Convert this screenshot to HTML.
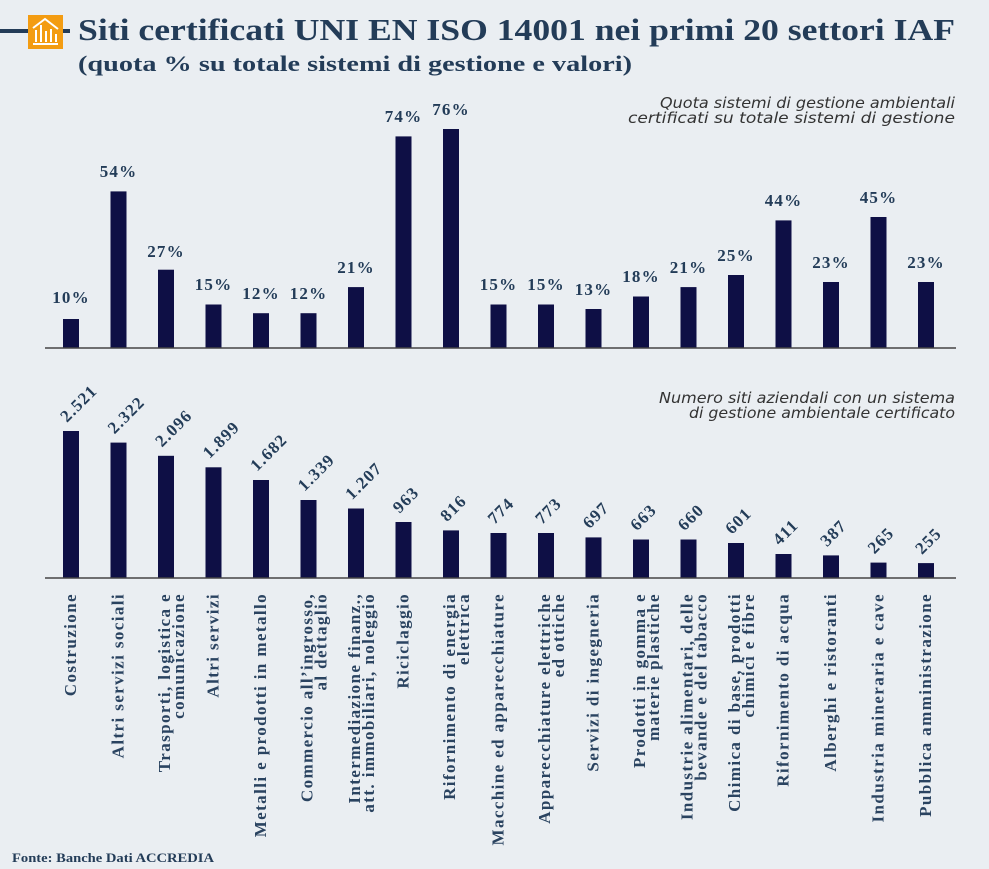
<!DOCTYPE html>
<html><head><meta charset="utf-8"><style>
html,body{margin:0;padding:0;background:#eaeef2;}
svg{display:block;}
.t{font-family:"Liberation Serif",serif;font-weight:bold;fill:#233c58;}
.v{font-family:"Liberation Serif",serif;font-weight:bold;fill:#233c58;font-size:17px;letter-spacing:1.2px;}
.c{font-family:"Liberation Serif",serif;font-weight:bold;fill:#2a4360;font-size:17px;letter-spacing:1.4px;}
.l{font-family:"DejaVu Sans","Liberation Sans",sans-serif;font-style:italic;fill:#333;font-size:15.5px;}
</style></head><body>
<svg width="989" height="869" viewBox="0 0 989 869" xmlns="http://www.w3.org/2000/svg">
<rect width="989" height="869" fill="#eaeef2"/>
<line x1="0" y1="31" x2="70" y2="31" stroke="#243c58" stroke-width="4"/>
<rect x="28" y="15" width="35" height="34" fill="#f39c12"/>
<g stroke="#fff" stroke-width="2" fill="none">
<line x1="33" y1="44" x2="58" y2="44"/>
<line x1="36" y1="42" x2="36" y2="30"/><line x1="41" y1="42" x2="41" y2="25"/><line x1="46" y1="42" x2="46" y2="31"/><line x1="51" y1="42" x2="51" y2="29"/><line x1="56" y1="42" x2="56" y2="34"/>
<polyline points="33,28 45,19 58,29"/>
</g>
<text class="t" x="78" y="40" font-size="31" textLength="877" lengthAdjust="spacingAndGlyphs">Siti certificati UNI EN ISO 14001 nei primi 20 settori IAF</text>
<text class="t" x="78" y="71" font-size="22" textLength="554" lengthAdjust="spacingAndGlyphs">(quota % su totale sistemi di gestione e valori)</text>
<text class="l" x="955" y="108" text-anchor="end" textLength="295" lengthAdjust="spacingAndGlyphs">Quota sistemi di gestione ambientali</text>
<text class="l" x="955" y="123" text-anchor="end" textLength="327" lengthAdjust="spacingAndGlyphs">certificati su totale sistemi di gestione</text>
<text class="l" x="955" y="403" text-anchor="end" textLength="296" lengthAdjust="spacingAndGlyphs">Numero siti aziendali con un sistema</text>
<text class="l" x="955" y="418" text-anchor="end" textLength="266" lengthAdjust="spacingAndGlyphs">di gestione ambientale certificato</text>
<g fill="#0e0f45">
<rect x="63" y="319" width="16" height="29"/>
<rect x="110.5" y="191.4" width="16" height="156.6"/>
<rect x="158" y="269.7" width="16" height="78.3"/>
<rect x="205.5" y="304.5" width="16" height="43.5"/>
<rect x="253" y="313.2" width="16" height="34.8"/>
<rect x="300.5" y="313.2" width="16" height="34.8"/>
<rect x="348" y="287.1" width="16" height="60.9"/>
<rect x="395.5" y="136.4" width="16" height="211.6"/>
<rect x="443" y="129" width="16" height="219"/>
<rect x="490.5" y="304.5" width="16" height="43.5"/>
<rect x="538" y="304.5" width="16" height="43.5"/>
<rect x="585.5" y="309" width="16" height="39"/>
<rect x="633" y="296.5" width="16" height="51.5"/>
<rect x="680.5" y="287.1" width="16" height="60.9"/>
<rect x="728" y="275" width="16" height="73"/>
<rect x="775.5" y="220.4" width="16" height="127.6"/>
<rect x="823" y="282" width="16" height="66"/>
<rect x="870.5" y="217" width="16" height="131"/>
<rect x="918" y="282" width="16" height="66"/>

<rect x="63" y="431" width="16" height="147"/>
<rect x="110.5" y="442.6" width="16" height="135.4"/>
<rect x="158" y="455.8" width="16" height="122.2"/>
<rect x="205.5" y="467.3" width="16" height="110.7"/>
<rect x="253" y="480" width="16" height="98"/>
<rect x="300.5" y="500" width="16" height="78"/>
<rect x="348" y="508.5" width="16" height="69.5"/>
<rect x="395.5" y="522" width="16" height="56"/>
<rect x="443" y="530.4" width="16" height="47.6"/>
<rect x="490.5" y="533" width="16" height="45"/>
<rect x="538" y="533" width="16" height="45"/>
<rect x="585.5" y="537.4" width="16" height="40.6"/>
<rect x="633" y="539.5" width="16" height="38.5"/>
<rect x="680.5" y="539.5" width="16" height="38.5"/>
<rect x="728" y="543" width="16" height="35"/>
<rect x="775.5" y="554" width="16" height="24"/>
<rect x="823" y="555.4" width="16" height="22.6"/>
<rect x="870.5" y="562.6" width="16" height="15.4"/>
<rect x="918" y="563.1" width="16" height="14.9"/>
</g>
<line x1="45" y1="348" x2="956" y2="348" stroke="#444" stroke-width="1.5"/>
<line x1="45" y1="578" x2="956" y2="578" stroke="#444" stroke-width="1.5"/>
<g class="v" text-anchor="middle">
<text x="71" y="303">10%</text>
<text x="118.5" y="177">54%</text>
<text x="166" y="257">27%</text>
<text x="213.5" y="290">15%</text>
<text x="261" y="299">12%</text>
<text x="308.5" y="299">12%</text>
<text x="356" y="273">21%</text>
<text x="403.5" y="122">74%</text>
<text x="451" y="115">76%</text>
<text x="498.5" y="290">15%</text>
<text x="546" y="290">15%</text>
<text x="593.5" y="295">13%</text>
<text x="641" y="282">18%</text>
<text x="688.5" y="273">21%</text>
<text x="736" y="261">25%</text>
<text x="783.5" y="206">44%</text>
<text x="831" y="268">23%</text>
<text x="878.5" y="203">45%</text>
<text x="926" y="268">23%</text>
</g>
<g class="v">
<text transform="translate(67,423) rotate(-45)">2.521</text>
<text transform="translate(114.5,434.6) rotate(-45)">2.322</text>
<text transform="translate(162,447.8) rotate(-45)">2.096</text>
<text transform="translate(209.5,459.3) rotate(-45)">1.899</text>
<text transform="translate(257,472) rotate(-45)">1.682</text>
<text transform="translate(304.5,492) rotate(-45)">1.339</text>
<text transform="translate(352,500.5) rotate(-45)">1.207</text>
<text transform="translate(399.5,514) rotate(-45)">963</text>
<text transform="translate(447,522.4) rotate(-45)">816</text>
<text transform="translate(494.5,525) rotate(-45)">774</text>
<text transform="translate(542,525) rotate(-45)">773</text>
<text transform="translate(589.5,529.4) rotate(-45)">697</text>
<text transform="translate(637,531.5) rotate(-45)">663</text>
<text transform="translate(684.5,531.5) rotate(-45)">660</text>
<text transform="translate(732,535) rotate(-45)">601</text>
<text transform="translate(779.5,546) rotate(-45)">411</text>
<text transform="translate(827,547.4) rotate(-45)">387</text>
<text transform="translate(874.5,554.6) rotate(-45)">265</text>
<text transform="translate(922,555.1) rotate(-45)">255</text>
</g>
<g class="c" text-anchor="end">
<text transform="translate(76,593) rotate(-90)">Costruzione</text>
<text transform="translate(123.5,593) rotate(-90)">Altri servizi sociali</text>
<text transform="translate(170,593) rotate(-90)">Trasporti, logistica e</text>
<text transform="translate(184,593) rotate(-90)">comunicazione</text>
<text transform="translate(218.5,593) rotate(-90)">Altri servizi</text>
<text transform="translate(266,593) rotate(-90)">Metalli e prodotti in metallo</text>
<text transform="translate(312.5,593) rotate(-90)">Commercio all’ingrosso,</text>
<text transform="translate(326.5,593) rotate(-90)">al dettaglio</text>
<text transform="translate(360,593) rotate(-90)">Intermediazione finanz.,</text>
<text transform="translate(374,593) rotate(-90)">att. immobiliari, noleggio</text>
<text transform="translate(408.5,593) rotate(-90)">Riciclaggio</text>
<text transform="translate(455,593) rotate(-90)">Rifornimento di energia</text>
<text transform="translate(469,593) rotate(-90)">elettrica</text>
<text transform="translate(503.5,593) rotate(-90)">Macchine ed apparecchiature</text>
<text transform="translate(550,593) rotate(-90)">Apparecchiature elettriche</text>
<text transform="translate(564,593) rotate(-90)">ed ottiche</text>
<text transform="translate(598.5,593) rotate(-90)">Servizi di ingegneria</text>
<text transform="translate(645,593) rotate(-90)">Prodotti in gomma e</text>
<text transform="translate(659,593) rotate(-90)">materie plastiche</text>
<text transform="translate(692.5,593) rotate(-90)">Industrie alimentari, delle</text>
<text transform="translate(706.5,593) rotate(-90)">bevande e del tabacco</text>
<text transform="translate(740,593) rotate(-90)">Chimica di base, prodotti</text>
<text transform="translate(754,593) rotate(-90)">chimici e fibre</text>
<text transform="translate(788.5,593) rotate(-90)">Rifornimento di acqua</text>
<text transform="translate(836,593) rotate(-90)">Alberghi e ristoranti</text>
<text transform="translate(883.5,593) rotate(-90)">Industria mineraria e cave</text>
<text transform="translate(931,593) rotate(-90)">Pubblica amministrazione</text>
</g>
<text class="t" x="12" y="862" font-size="13" textLength="202" lengthAdjust="spacingAndGlyphs">Fonte: Banche Dati ACCREDIA</text>
</svg>
</body></html>
